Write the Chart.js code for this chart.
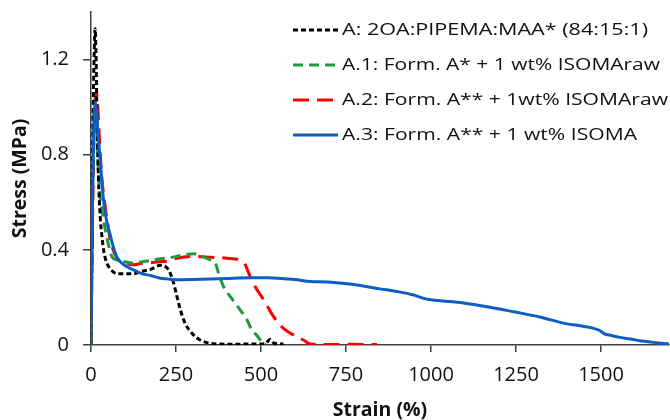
<!DOCTYPE html>
<html>
<head>
<meta charset="utf-8">
<script src="https://cdn.jsdelivr.net/npm/chart.js@4/dist/chart.umd.min.js"></script>
<style>
  html, body { margin: 0; padding: 0; background: #fff; }
  #wrap { width: 670px; height: 420px; position: relative; }
</style>
</head>
<body>
<div id="wrap"><canvas id="c" width="670" height="420"></canvas></div>
<script>
// ---- Data ----
const seriesLabels = [
  'A: 2OA:PIPEMA:MAA* (84:15:1)',
  'A.1: Form. A* + 1 wt% ISOMAraw',
  'A.2: Form. A** + 1wt% ISOMAraw',
  'A.3: Form. A** + 1 wt% ISOMA'
];

const strainA  = [0, 3, 6, 9, 12, 15, 18, 22, 27, 32, 37, 45, 57, 76, 100, 125, 150, 175, 204, 223, 233, 243, 253, 263, 277, 297, 321, 351, 380, 420, 460, 500, 515, 527, 538, 550, 566];
const stressA  = [0, 0.45, 0.95, 1.2, 1.33, 1.2, 0.92, 0.70, 0.54, 0.46, 0.40, 0.35, 0.32, 0.30, 0.30, 0.30, 0.31, 0.318, 0.335, 0.325, 0.302, 0.26, 0.203, 0.147, 0.091, 0.049, 0.021, 0.007, 0.004, 0.003, 0.004, 0.004, 0.008, 0.024, 0.008, 0.005, 0.004];

const strainA1 = [0, 3, 6, 10, 13, 17, 22, 27, 32, 40, 50, 62, 76, 100, 125, 150, 175, 200, 223, 250, 272, 302, 330, 351, 366, 375, 390, 410, 439, 459, 473, 485, 498, 508, 515];
const stressA1 = [0, 0.4, 0.8, 1.03, 1.0, 0.9, 0.72, 0.62, 0.57, 0.5, 0.43, 0.37, 0.358, 0.35, 0.344, 0.35, 0.355, 0.362, 0.365, 0.372, 0.379, 0.384, 0.37, 0.358, 0.344, 0.302, 0.245, 0.203, 0.147, 0.105, 0.063, 0.045, 0.021, 0.004, 0.002];

const strainA2 = [0, 3, 7, 11, 16, 20, 25, 32, 40, 50, 57, 76, 100, 125, 150, 175, 200, 223, 253, 302, 351, 400, 439, 454, 464, 483, 508, 537, 566, 596, 625, 645, 700, 760, 841];
const stressA2 = [0, 0.35, 0.75, 1.0, 1.06, 1.0, 0.86, 0.7, 0.6, 0.5, 0.44, 0.365, 0.345, 0.337, 0.344, 0.346, 0.35, 0.352, 0.365, 0.372, 0.369, 0.365, 0.355, 0.337, 0.302, 0.245, 0.19, 0.119, 0.07, 0.042, 0.021, 0.004, 0.002, 0.003, 0.002];

const strainA3 = [0, 2, 5, 8, 11, 13, 16, 20, 27, 36, 45, 57, 66, 76, 90, 105, 125, 150, 175, 204, 224, 248, 300, 351, 400, 469, 520, 600, 645, 694, 760, 800, 851, 900, 949, 978, 1000, 1095, 1170, 1243, 1320, 1390, 1450, 1478, 1495, 1510, 1530, 1560, 1590, 1620, 1654, 1700];
const stressA3 = [0, 0.3, 0.65, 0.9, 1.0, 1.02, 0.99, 0.9, 0.78, 0.62, 0.53, 0.46, 0.41, 0.37, 0.345, 0.33, 0.316, 0.3, 0.292, 0.281, 0.278, 0.274, 0.275, 0.277, 0.28, 0.283, 0.283, 0.275, 0.267, 0.265, 0.256, 0.248, 0.236, 0.225, 0.21, 0.196, 0.19, 0.177, 0.16, 0.14, 0.118, 0.092, 0.078, 0.07, 0.062, 0.047, 0.04, 0.031, 0.024, 0.017, 0.011, 0.004];

const xTicks = [0, 250, 500, 750, 1000, 1250, 1500];
const xTickLabels = ['0', '250', '500', '750', '1000', '1250', '1500'];
const yTicks = [0, 0.4, 0.8, 1.2];
const yTickLabels = ['0', '0.4', '0.8', '1.2'];

const xTitle = 'Strain (%)';
const yTitle = 'Stress (MPa)';

// ---- Build ----
const toPts = (xs, ys) => xs.map((x, i) => ({ x: x, y: ys[i] }));
const FONT = '"Open Sans"';

const styles = [
  { color: '#000000', dash: [5, 3], order: 1 },
  { color: '#1e9a3c', dash: [10, 6], order: 2 },
  { color: '#ff0000', dash: [16, 8], order: 3 },
  { color: '#0b5fc4', dash: [], order: 0 }
];
// rendered legend text widths (px) in the reference layout
const legendTextWidths = [306, 318, 326, 295];
const xs = [strainA, strainA1, strainA2, strainA3];
const ys = [stressA, stressA1, stressA2, stressA3];

const datasets = seriesLabels.map((lab, i) => ({
  label: lab,
  data: toPts(xs[i], ys[i]),
  borderColor: styles[i].color,
  backgroundColor: styles[i].color,
  borderDash: styles[i].dash,
  borderWidth: 3,
  pointRadius: 0,
  showLine: true,
  fill: false,
  cubicInterpolationMode: 'monotone',
  order: styles[i].order
}));

const legendPlugin = {
  id: 'customLegend',
  afterDraw(chart) {
    const ctx = chart.ctx;
    ctx.save();
    chart.data.datasets.forEach((ds, i) => {
      const y = 30 + i * 35;
      ctx.strokeStyle = ds.borderColor;
      ctx.lineWidth = 3;
      ctx.setLineDash(ds.borderDash || []);
      ctx.beginPath();
      ctx.moveTo(293, y);
      ctx.lineTo(338, y);
      ctx.stroke();
      ctx.setLineDash([]);
      ctx.font = '17px ' + FONT;
      const sx = legendTextWidths[i] / ctx.measureText(ds.label).width;
      ctx.save();
      ctx.translate(342, y);
      ctx.scale(sx, 1);
      ctx.fillStyle = '#111';
      ctx.textBaseline = 'middle';
      ctx.textAlign = 'left';
      ctx.fillText(ds.label, 0, 0);
      ctx.restore();
    });
    ctx.restore();
  }
};

new Chart(document.getElementById('c'), {
  type: 'scatter',
  data: { datasets: datasets },
  plugins: [legendPlugin],
  options: {
    responsive: false,
    animation: false,
    devicePixelRatio: 1,
    layout: { padding: { top: 12, right: 1, left: 0, bottom: 0 } },
    plugins: { legend: { display: false }, tooltip: { enabled: false } },
    scales: {
      x: {
        type: 'linear',
        min: 0, max: 1700,
        afterFit: s => { s.height = 75; s.paddingLeft = 0; s.paddingRight = 0; },
        afterBuildTicks: s => { s.ticks = xTicks.map(v => ({ value: v })); },
        ticks: {
          callback: (v) => xTickLabels[xTicks.indexOf(v)],
          color: '#111',
          font: { family: FONT, size: 20 },
          padding: 11,
          maxRotation: 0
        },
        grid: { drawOnChartArea: false, drawTicks: true, tickLength: 7, color: '#404040', lineWidth: 1.5 },
        border: { display: true, color: '#404040', width: 1.5 },
        title: {
          display: true, text: xTitle, color: '#111',
          font: { family: FONT, size: 19.5, weight: 'bold', lineHeight: 1 },
          padding: { top: 0, bottom: 0 }
        }
      },
      y: {
        type: 'linear',
        min: 0, max: 1.4,
        afterFit: s => { s.width = 91; s.paddingTop = 0; s.paddingBottom = 0; },
        afterBuildTicks: s => { s.ticks = yTicks.map(v => ({ value: v })); },
        ticks: {
          callback: (v) => yTickLabels[yTicks.indexOf(v)],
          color: '#111',
          font: { family: FONT, size: 20 },
          padding: 14
        },
        grid: { drawOnChartArea: false, drawTicks: true, tickLength: 8, color: '#404040', lineWidth: 1.5 },
        border: { display: true, color: '#404040', width: 1.5 },
        title: {
          display: true, text: yTitle, color: '#111',
          font: { family: FONT, size: 19.5, weight: 'bold', lineHeight: 1 },
          padding: { top: 11, bottom: 0 }
        }
      }
    }
  }
});
</script>
</body>
</html>
